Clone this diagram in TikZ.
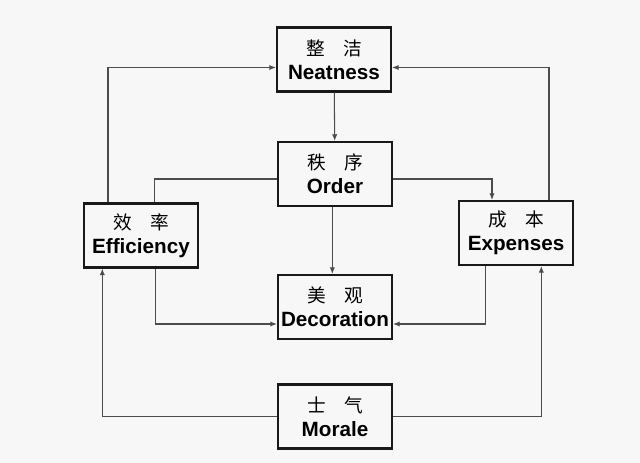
\documentclass[tikz,border=0pt]{standalone}
\usepackage{fontspec}
\setmainfont{Liberation Sans}
\newfontfamily\cjk{Noto Sans CJK SC}
\usetikzlibrary{positioning,arrows.meta}

\newcommand{\zh}[2]{{\cjk\mdseries\fontsize{14}{18}\selectfont #1\hspace{1em}#2}}

\begin{document}
\begin{tikzpicture}[
            x=0.75pt, y=-0.75pt,
            bx/.style={draw=black!90, line width=1.6pt, minimum width=85.5pt, minimum height=48pt,
                inner sep=1pt, align=center, font=\fontsize{15.5}{18}\selectfont\bfseries},
            ln/.style={draw=black!70, line width=0.8pt},
            arr/.style={ln, -{Latex[length=5pt,width=4pt]}}
        ]
        \fill[black!3] (0,0) rectangle (640,463);
        \useasboundingbox (0,0) rectangle (640,463);
        \node[bx] (neat) at (334,59.5)  {\zh{整}{洁}\\Neatness};
        \node[bx] (ord)  at (335,174)   {\zh{秩}{序}\\Order};
        \node[bx] (eff)  at (141,235.5) {\zh{效}{率}\\Efficiency};
        \node[bx] (exp)  at (516,233)   {\zh{成}{本}\\Expenses};
        \node[bx] (deco) at (335,307)   {\zh{美}{观}\\Decoration};
        \node[bx] (mor)  at (335,416.5) {\zh{士}{气}\\Morale};
        % top loop
        \draw[arr] ([xshift=-24.75pt]eff.north) |- ([yshift=-6pt]neat.west);
        \draw[arr] ([xshift=24.75pt]exp.north) |- ([yshift=-6pt]neat.east);
        \draw[arr] (neat) -- (ord);
        % order branches
        \draw[ln] ([yshift=-3.75pt]ord.west) -| ([xshift=10pt]eff.north);
        \draw[arr] ([yshift=-3.75pt]ord.east) -| ([xshift=-18pt]exp.north);
        \draw[arr] ([xshift=-2pt]ord.south) -- ([xshift=-2pt]deco.north);
        % into decoration
        \draw[arr] ([xshift=11pt]eff.south) |- ([yshift=-12.75pt]deco.west);
        \draw[arr] ([xshift=-23pt]exp.south) |- ([yshift=-12.75pt]deco.east);
        % morale
        \draw[arr] (mor.west) -| ([xshift=-29pt]eff.south);
        \draw[arr] (mor.east) -| ([xshift=19pt]exp.south);
\end{tikzpicture}
\end{document}
